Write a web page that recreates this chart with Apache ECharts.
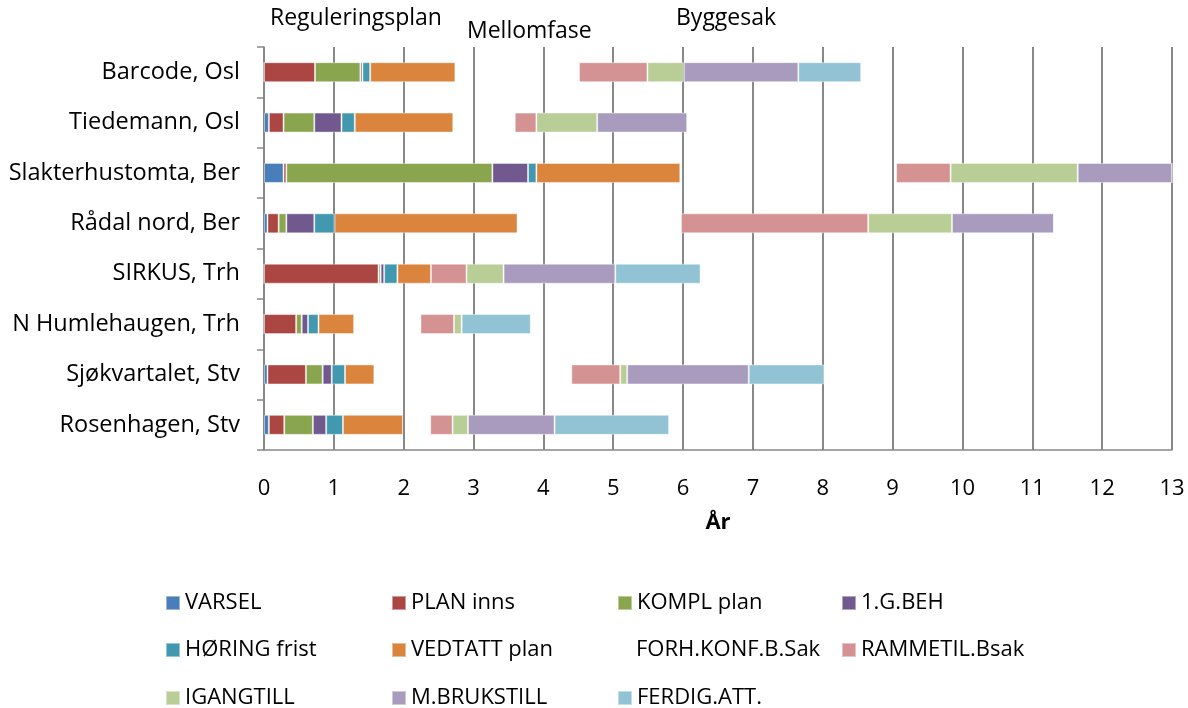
<!DOCTYPE html>
<html>
<head>
<meta charset="utf-8">
<script src="https://cdn.jsdelivr.net/npm/echarts@6/dist/echarts.min.js"></script>
<style>
html,body{margin:0;padding:0;background:#fff;}
#c{width:1188px;height:708px;}
</style>
</head>
<body>
<div id="c"></div>
<script>
var categories = ['Barcode, Osl','Tiedemann, Osl','Slakterhustomta, Ber','Rådal nord, Ber','SIRKUS, Trh','N Humlehaugen, Trh','Sjøkvartalet, Stv','Rosenhagen, Stv'];
var seriesNames = ['VARSEL','PLAN inns','KOMPL plan','1.G.BEH','HØRING frist','VEDTATT plan','FORH.KONF.B.Sak','RAMMETIL.Bsak','IGANGTILL','M.BRUKSTILL','FERDIG.ATT.'];
// durations in years, one value per category (top to bottom)
var varsel      = [0,    0.07, 0.28, 0.05, 0,    0,    0.05, 0.07];
var planInns    = [0.73, 0.21, 0.04, 0.16, 1.64, 0.46, 0.55, 0.22];
var komplPlan   = [0.65, 0.44, 2.95, 0.11, 0.03, 0.08, 0.24, 0.41];
var gBeh        = [0.03, 0.39, 0.51, 0.40, 0.05, 0.09, 0.13, 0.19];
var horing      = [0.11, 0.19, 0.12, 0.29, 0.19, 0.15, 0.19, 0.24];
var vedtatt     = [1.22, 1.41, 2.06, 2.62, 0.48, 0.51, 0.42, 0.86];
var forhKonf    = [1.77, 0.88, 3.09, 2.34, 0,    0.95, 2.82, 0.39];
var rammetil    = [0.98, 0.31, 0.78, 2.68, 0.51, 0.48, 0.70, 0.32];
var igangtill   = [0.52, 0.87, 1.82, 1.20, 0.53, 0.11, 0.10, 0.22];
var mBrukstill  = [1.64, 1.29, 1.35, 1.46, 1.60, 0,    1.74, 1.24];
var ferdigAtt   = [0.90, 0,    0,    0,    1.22, 0.99, 1.08, 1.64];
var xTicks = [0,1,2,3,4,5,6,7,8,9,10,11,12,13];
var phaseLabels = ['Reguleringsplan','Mellomfase','Byggesak'];

var seriesData = [varsel, planInns, komplPlan, gBeh, horing, vedtatt, forhKonf, rammetil, igangtill, mBrukstill, ferdigAtt];
var colors = ['#4A7EBB','#AB4643','#89A54E','#71588F','#4198AF','#DB843D','rgba(0,0,0,0)','#D49392','#B9CD96','#A99BBD','#92C3D4'];
var FONT = '"Open Sans"';

var series = seriesNames.map(function(n, i){
  var transparent = (i === 6);
  return {
    name: n, type: 'bar', stack: 'total', barWidth: 20,
    data: seriesData[i],
    itemStyle: {
      color: colors[i],
      borderColor: transparent ? 'rgba(0,0,0,0)' : 'rgba(255,255,255,0.45)',
      borderWidth: transparent ? 0 : 1
    },
    emphasis: {disabled: true},
    silent: transparent
  };
});

var legendLeft = [160, 386, 612, 836];
var legendTop = [587, 634, 682];
var legends = seriesNames.map(function(n, i){
  return {
    data: [n], left: legendLeft[i % 4], top: legendTop[Math.floor(i / 4)],
    itemWidth: 14, itemHeight: 14, itemGap: 8, icon: 'rect',
    selectedMode: false,
    textStyle: {fontFamily: FONT, fontSize: 22, color: '#000'}
  };
});

var chart = echarts.init(document.getElementById('c'), null, {renderer: 'canvas'});
chart.setOption({
  animation: false,
  backgroundColor: '#fff',
  color: colors,
  grid: {left: 264, right: 16, top: 47, bottom: 258, containLabel: false},
  xAxis: {
    type: 'value', min: xTicks[0], max: xTicks[xTicks.length - 1], interval: 1,
    name: 'År', nameLocation: 'middle', nameGap: 62,
    nameTextStyle: {fontFamily: FONT, fontSize: 22, fontWeight: 'bold', color: '#000'},
    axisLine: {show: true, lineStyle: {color: '#888', width: 1.5}},
    axisTick: {show: false},
    axisLabel: {fontFamily: FONT, fontSize: 22, color: '#000', margin: 28},
    splitLine: {show: true, lineStyle: {color: '#888', width: 2}}
  },
  yAxis: {
    type: 'category', data: categories, inverse: true,
    axisLine: {show: true, lineStyle: {color: '#888', width: 1.5}},
    axisTick: {show: true, length: 7, lineStyle: {color: '#888', width: 1.5}},
    axisLabel: {fontFamily: FONT, fontSize: 23.5, color: '#000', margin: 24},
    splitLine: {show: false}
  },
  legend: legends,
  series: series,
  graphic: [
    {type: 'text', left: 270, top: 7, style: {text: phaseLabels[0], font: '23px ' + FONT, fill: '#000'}},
    {type: 'text', left: 467, top: 20, style: {text: phaseLabels[1], font: '23px ' + FONT, fill: '#000'}},
    {type: 'text', left: 676, top: 7, style: {text: phaseLabels[2], font: '23px ' + FONT, fill: '#000'}}
  ]
});
</script>
</body>
</html>
